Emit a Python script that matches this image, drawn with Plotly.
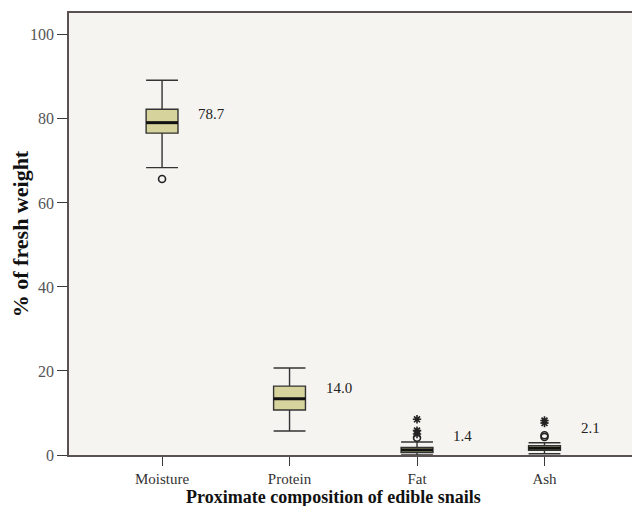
import plotly.graph_objects as go

categories = ["Moisture", "Protein", "Fat", "Ash"]
q1 = [76.6, 10.7, 0.6, 1.1]
median = [79.1, 13.4, 1.2, 1.6]
q3 = [82.3, 16.4, 1.8, 2.2]
lowerfence = [68.4, 5.7, 0.0, 0.3]
upperfence = [89.2, 20.7, 3.1, 2.9]
mean_labels = ["78.7", "14.0", "1.4", "2.1"]
label_y = [81.2, 16.0, 4.5, 6.5]

circle_x = ["Moisture", "Fat", "Ash", "Ash"]
circle_y = [65.7, 4.1, 4.3, 4.7]
star_x = ["Fat", "Fat", "Fat", "Ash", "Ash"]
star_y = [5.0, 5.8, 8.5, 7.6, 8.2]

yticks = [0, 20, 40, 60, 80, 100]

BOX_W = 0.25

fig = go.Figure()
fig.add_trace(go.Box(
    x=categories, q1=q1, median=median, q3=q3,
    lowerfence=lowerfence, upperfence=upperfence,
    width=BOX_W, whiskerwidth=1.0,
    fillcolor="#d6d39c", line=dict(color="#333333", width=1.4),
    boxpoints=False, showlegend=False,
))
# thicker median bars, drawn from the median values
for i, m in enumerate(median):
    fig.add_shape(type="line", xref="x", yref="y",
                  x0=i - BOX_W / 2, x1=i + BOX_W / 2, y0=m, y1=m,
                  line=dict(color="#111", width=3))
fig.add_trace(go.Scatter(
    x=circle_x, y=circle_y, mode="markers",
    marker=dict(symbol="circle-open", size=7, color="#222", line=dict(width=1.6)),
    showlegend=False,
))
fig.add_trace(go.Scatter(
    x=star_x, y=star_y, mode="markers",
    marker=dict(symbol="asterisk-open", size=7, color="#222", line=dict(width=1.6)),
    showlegend=False,
))

for i, (t, ly) in enumerate(zip(mean_labels, label_y)):
    fig.add_annotation(x=i + 0.27, y=ly, text=t, showarrow=False,
                       xanchor="left", yanchor="middle",
                       font=dict(family="Liberation Serif", size=15, color="#222"))

fig.add_annotation(x=0.468, xref="paper", y=-0.095, yref="paper",
                   text="<b>Proximate composition of edible snails</b>",
                   showarrow=False, xanchor="center", yanchor="middle",
                   font=dict(family="Liberation Serif", size=18, color="#111"))

fig.update_layout(
    width=632, height=498,
    margin=dict(l=61, r=3, t=3, b=51),
    paper_bgcolor="white", plot_bgcolor="#f6f4f1",
    font=dict(family="Liberation Serif", size=15, color="#444"),
    xaxis=dict(
        categoryorder="array", categoryarray=categories,
        range=[-0.73, 3.71], showgrid=False, zeroline=False,
        showline=True, linecolor="#5a5252", linewidth=1.5, mirror=True,
        ticks="outside", ticklen=9, tickcolor="#3a3a3a", tickwidth=1.4,
        tickfont=dict(family="Liberation Serif", size=15, color="#333"),
    ),
    yaxis=dict(
        range=[0, 105.2], tickvals=yticks, showgrid=False, zeroline=False,
        showline=True, linecolor="#5a5252", linewidth=1.5, mirror=True,
        ticks="outside", ticklen=10, tickcolor="#3a3a3a", tickwidth=1.4,
        tickfont=dict(family="Liberation Serif", size=16, color="#555"),
        title=dict(text="<b>% of fresh weight</b>", standoff=4,
                   font=dict(family="Liberation Serif", size=22, color="#111")),
    ),
)

fig.write_html("out.html")
